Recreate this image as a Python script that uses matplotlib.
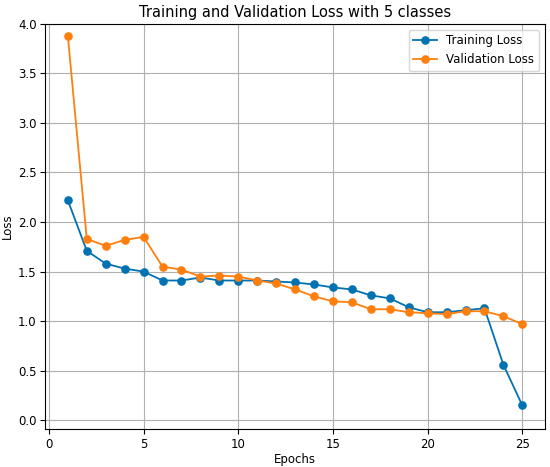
import matplotlib.pyplot as plt

epochs = list(range(1, 26))
train_loss = [2.22, 1.71, 1.58, 1.53, 1.50, 1.41, 1.41, 1.44, 1.41, 1.41,
              1.41, 1.40, 1.39, 1.37, 1.34, 1.32, 1.26, 1.23, 1.14, 1.09,
              1.09, 1.11, 1.13, 0.56, 0.15]
val_loss = [3.88, 1.83, 1.76, 1.82, 1.85, 1.55, 1.52, 1.45, 1.46, 1.45,
            1.41, 1.38, 1.32, 1.25, 1.20, 1.19, 1.12, 1.12, 1.09, 1.08,
            1.07, 1.10, 1.10, 1.05, 0.97]

fig, ax = plt.subplots(figsize=(5.5, 4.67), dpi=100)

ax.plot(epochs, train_loss, marker='o', ms=5.2, lw=1.3, color='#0072B2', label='Training Loss')
ax.plot(epochs, val_loss, marker='o', ms=5.2, lw=1.3, color='#ff7f0e', label='Validation Loss')

ax.set_title('Training and Validation Loss with 5 classes', fontsize=10.5, pad=5)
ax.set_xlabel('Epochs', fontsize=8.5, labelpad=2)
ax.set_ylabel('Loss', fontsize=8.5, labelpad=3)
ax.tick_params(labelsize=8.5, pad=2.5)
ax.set_ylim(-0.09, 4.0)
ax.grid(True)
ax.legend(loc='upper right', fontsize=8.5)

fig.subplots_adjust(left=0.082, right=0.991, top=0.949, bottom=0.081)
fig.savefig('out.png')
